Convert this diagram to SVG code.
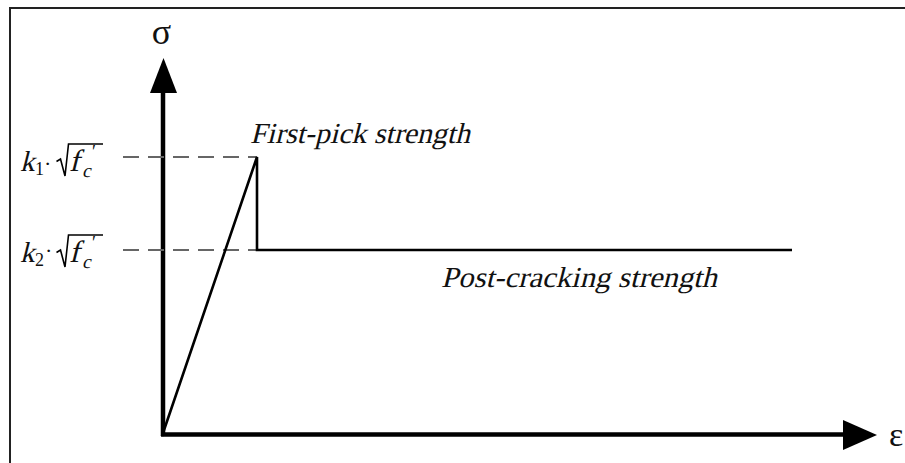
<svg xmlns="http://www.w3.org/2000/svg" width="905" height="463" viewBox="0 0 905 463">
<style>
.it{font-family:"Liberation Serif",serif;font-style:normal;fill:#111}
.rm{font-family:"Liberation Serif",serif;font-style:normal;fill:#111}
.dash{stroke:#666;stroke-width:2;stroke-dasharray:16 9;fill:none}
.ax{stroke:#000;stroke-width:4.5;fill:none}
.crv{stroke:#000;stroke-width:2.6;fill:none;stroke-linejoin:miter}
.rad{stroke:#000;stroke-width:1.6;fill:none;stroke-linejoin:miter}
</style>
<rect x="0" y="0" width="905" height="463" fill="#fff"/>
<g id="frame"><path d="M10,470 V8 H910" fill="none" stroke="#222" stroke-width="2"/></g>
<g id="connectors">
  <path class="ax" d="M163,436 V90"/>
  <polygon points="150,93 163.5,58 177,93" fill="#000"/>
  <path class="ax" d="M161,434.5 H846"/>
  <polygon points="843,420 877,435 843,450" fill="#000"/>
  <path class="dash" d="M123,157 H257"/>
  <path class="dash" d="M123,250 H257"/>
  <path class="crv" d="M162,436 L257,157 V250 H792"/>
</g>
<g id="sigma"><text class="rm" x="161.5" y="44" font-size="36" text-anchor="middle">σ</text></g>
<g id="epsilon"><text class="rm" x="889" y="446" font-size="34">ε</text></g>
<g id="first-pick"><text class="it" transform="translate(250,143) skewX(-14)" font-size="29" textLength="220" lengthAdjust="spacingAndGlyphs">First-pick strength</text></g>
<g id="post-cracking"><text class="it" transform="translate(441,287) skewX(-14)" font-size="29" textLength="276" lengthAdjust="spacingAndGlyphs">Post-cracking strength</text></g>
<g id="k1">
  <text class="it" transform="translate(20,171) skewX(-14)" font-size="29">k</text>
  <text class="rm" x="35" y="175" font-size="18">1</text>
  <text class="rm" x="44" y="171" font-size="22">·</text>
  <path class="rad" d="M56.5,161.5 L60.5,159 L65,176 L68.5,144 H103"/>
  <text class="it" transform="translate(69,171) skewX(-14)" font-size="31">f</text>
  <text class="it" transform="translate(82,177) skewX(-14)" font-size="19">c</text>
  <text class="rm" x="92" y="158" font-size="18">′</text>
</g>
<g id="k2">
  <text class="it" transform="translate(20,262) skewX(-14)" font-size="29">k</text>
  <text class="rm" x="35" y="266" font-size="18">2</text>
  <text class="rm" x="45" y="258" font-size="22">·</text>
  <path class="rad" d="M56.5,252.5 L60.5,250 L65,267 L68.5,235 H103"/>
  <text class="it" transform="translate(69,262) skewX(-14)" font-size="31">f</text>
  <text class="it" transform="translate(82,268) skewX(-14)" font-size="19">c</text>
  <text class="rm" x="92" y="249" font-size="18">′</text>
</g>
</svg>
